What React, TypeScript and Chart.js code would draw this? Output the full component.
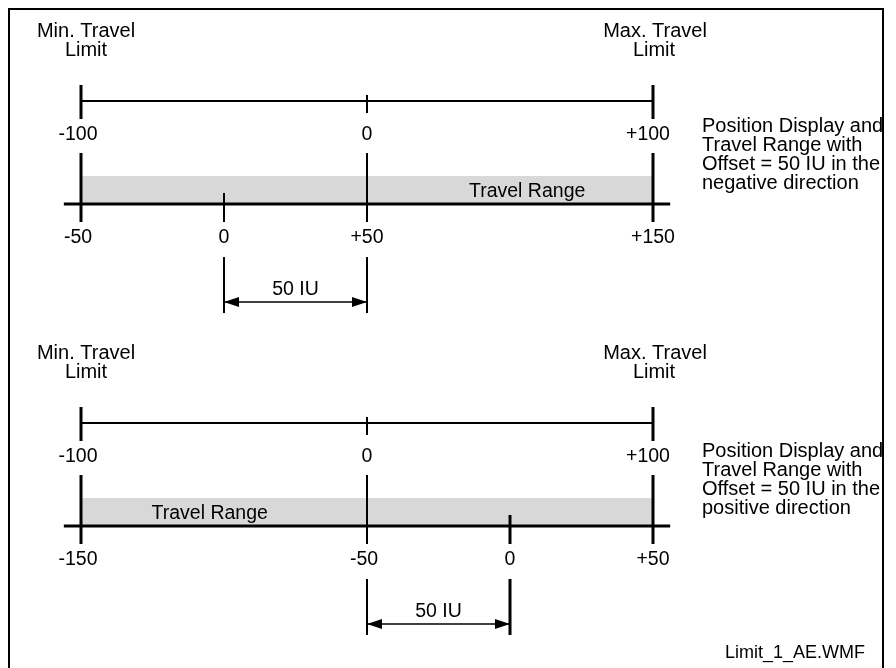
import React, { useEffect, useRef } from "react";
import { Chart, registerables } from "chart.js";

Chart.register(...registerables);

// ---------------- data (values in IU) ----------------
const travelLimits = [-100, 100]; // Min. / Max. Travel Limit, in displayed position
const displayTicks = [-100, 0, 100];
const displayTickLabels = ["-100", "0", "+100"];

const offsetIU = 50;
const offsetSigns = [-1, 1]; // top: negative direction, bottom: positive direction

const negScaleTicks = [-50, 0, 50, 150];
const negScaleLabels = ["-50", "0", "+50", "+150"];
const posScaleTicks = [-150, -50, 0, 50];
const posScaleLabels = ["-150", "-50", "0", "+50"];

const minLimitTitle = ["Min. Travel", "Limit"];
const maxLimitTitle = ["Max. Travel", "Limit"];
const negNote = ["Position Display and", "Travel Range with", "Offset = 50 IU in the", "negative direction"];
const posNote = ["Position Display and", "Travel Range with", "Offset = 50 IU in the", "positive direction"];
const travelRangeLabel = "Travel Range";
const offsetLabel = "50 IU";
const travelLabelAt = [56, -55]; // label anchor, displayed position
const fileLabel = "Limit_1_AE.WMF";

// ---------------- layout ----------------
const W = 876;
const H = 660;
const PLOT_LEFT = 73;
const PLOT_RIGHT = 645;
const DIAGRAM_BASE = [0, 322];
const NOTE_SHIFT = [0, 3];
const ROW = {
  title1: 23,
  title2: 42,
  topLine: 93,
  limTickTop: 77,
  limTickBot: 111,
  zeroTickTop: 87,
  zeroTickBot: 105,
  upperLabel: 127,
  longTickTop: 145,
  bandTop: 168,
  axis: 196,
  shortTickTop: 185,
  tickBot: 214,
  lowerLabel: 230,
  dimTop: 249,
  dimBot: 305,
  arrow: 294,
  dimLabel: 282,
  travelLabel: 184,
  note: 118,
};
const NOTE_LINE = 19;
const AXIS_OVERHANG = 6; // IU
const DISPLAY_LABEL_NUDGE = [-3, 0, -5]; // px
const NEG_LABEL_NUDGE = -3; // px, labels with a minus sign
const FONT = '"Liberation Sans", Arial, Helvetica, sans-serif';
const BAND = "#d8d8d8";

type Pt = { x: number; y: number };

function seg(x1: number, y1: number, x2: number, y2: number, w: number) {
  return {
    data: [
      { x: x1, y: y1 },
      { x: x2, y: y2 },
    ] as Pt[],
    showLine: true,
    borderColor: "#000",
    backgroundColor: "#000",
    borderWidth: w,
    borderCapStyle: "butt" as const,
    pointRadius: 0,
    pointHoverRadius: 0,
    fill: false,
    clip: false as const,
    order: 1,
  };
}

function buildDatasets() {
  const ds: any[] = [];
  offsetSigns.forEach((s, d) => {
    const b = DIAGRAM_BASE[d];
    const ticks = d === 0 ? negScaleTicks : posScaleTicks;
    const zeroW = d === 0 ? 2 : 3;
    const toDisp = (v: number) => v + s * offsetIU;
    // travel range band
    ds.push({
      data: [
        { x: travelLimits[0], y: b + ROW.bandTop },
        { x: travelLimits[1], y: b + ROW.bandTop },
      ],
      showLine: true,
      borderWidth: 0,
      borderColor: "rgba(0,0,0,0)",
      backgroundColor: BAND,
      pointRadius: 0,
      fill: { value: b + ROW.axis },
      order: 10,
    });
    // position display line
    ds.push(seg(travelLimits[0], b + ROW.topLine, travelLimits[1], b + ROW.topLine, 2));
    displayTicks.forEach((v) => {
      const lim = travelLimits.includes(v);
      ds.push(
        seg(v, b + (lim ? ROW.limTickTop : ROW.zeroTickTop), v, b + (lim ? ROW.limTickBot : ROW.zeroTickBot), lim ? 3 : 2)
      );
    });
    // offset scale axis
    ds.push(
      seg(travelLimits[0] - AXIS_OVERHANG, b + ROW.axis, travelLimits[1] + AXIS_OVERHANG, b + ROW.axis, 3)
    );
    ticks.forEach((v) => {
      const x = toDisp(v);
      const lim = travelLimits.includes(x);
      if (v === 0) ds.push(seg(x, b + ROW.shortTickTop, x, b + ROW.tickBot, zeroW));
      else ds.push(seg(x, b + ROW.longTickTop, x, b + ROW.tickBot, lim ? 3 : 2));
    });
    // dimension
    const dims = [0, toDisp(0)];
    dims.forEach((x) => ds.push(seg(x, b + ROW.dimTop, x, b + ROW.dimBot, x === 0 ? 2 : zeroW)));
    ds.push(seg(Math.min(...dims), b + ROW.arrow, Math.max(...dims), b + ROW.arrow, 1.5));
  });
  return ds;
}

const diagramPlugin = {
  id: "diagramText",
  afterDraw(chart: any) {
    const ctx = chart.ctx as CanvasRenderingContext2D;
    const xs = chart.scales.x;
    const ys = chart.scales.y;
    const px = (v: number) => xs.getPixelForValue(v);
    const py = (v: number) => ys.getPixelForValue(v);
    const nudge = (t: string) => (t.startsWith("-") ? NEG_LABEL_NUDGE : 0);
    ctx.save();
    ctx.fillStyle = "#000";
    ctx.textBaseline = "middle";

    offsetSigns.forEach((s, d) => {
      const b = DIAGRAM_BASE[d];
      const ticks = d === 0 ? negScaleTicks : posScaleTicks;
      const labels = d === 0 ? negScaleLabels : posScaleLabels;
      const note = d === 0 ? negNote : posNote;
      const toDisp = (v: number) => v + s * offsetIU;

      ctx.textAlign = "center";
      // titles
      ctx.font = `20px ${FONT}`;
      ctx.fillText(minLimitTitle[0], px(travelLimits[0]) + 5, py(b + ROW.title1));
      ctx.fillText(minLimitTitle[1], px(travelLimits[0]) + 5, py(b + ROW.title2));
      ctx.fillText(maxLimitTitle[0], px(travelLimits[1]) + 2, py(b + ROW.title1));
      ctx.fillText(maxLimitTitle[1], px(travelLimits[1]) + 1, py(b + ROW.title2));
      ctx.font = `19.5px ${FONT}`;
      // display labels
      displayTicks.forEach((v, i) =>
        ctx.fillText(displayTickLabels[i], px(v) + DISPLAY_LABEL_NUDGE[i], py(b + ROW.upperLabel))
      );
      // offset scale labels
      ticks.forEach((v, i) => ctx.fillText(labels[i], px(toDisp(v)) + nudge(labels[i]), py(b + ROW.lowerLabel)));
      // travel range
      ctx.fillText(travelRangeLabel, px(travelLabelAt[d]), py(b + ROW.travelLabel));
      // dimension label
      ctx.fillText(offsetLabel, (px(0) + px(toDisp(0))) / 2, py(b + ROW.dimLabel));

      // arrowheads
      const xa = Math.min(px(0), px(toDisp(0)));
      const xb = Math.max(px(0), px(toDisp(0)));
      const ya = py(b + ROW.arrow);
      ctx.beginPath();
      ctx.moveTo(xa, ya);
      ctx.lineTo(xa + 15, ya - 5);
      ctx.lineTo(xa + 15, ya + 5);
      ctx.closePath();
      ctx.fill();
      ctx.beginPath();
      ctx.moveTo(xb, ya);
      ctx.lineTo(xb - 15, ya - 5);
      ctx.lineTo(xb - 15, ya + 5);
      ctx.closePath();
      ctx.fill();

      // side note, clipped by frame
      ctx.save();
      ctx.beginPath();
      ctx.rect(0, 0, W - 2, H);
      ctx.clip();
      ctx.font = `20px ${FONT}`;
      ctx.textAlign = "left";
      note.forEach((line, i) =>
        ctx.fillText(line, px(travelLimits[1]) + 49, py(b + ROW.note + NOTE_SHIFT[d] + i * NOTE_LINE))
      );
      ctx.restore();
    });

    // file name
    ctx.font = `18px ${FONT}`;
    ctx.textAlign = "right";
    ctx.fillText(fileLabel, W - 19, H - 15);

    // frame
    ctx.fillRect(0, 0, 2, H);
    ctx.fillRect(0, 0, W, 2);
    ctx.fillRect(W - 2, 0, 2, H);
    ctx.restore();
  },
};

export default function App() {
  const ref = useRef<HTMLCanvasElement | null>(null);
  useEffect(() => {
    if (!ref.current) return;
    const chart = new Chart(ref.current, {
      type: "scatter",
      data: { datasets: buildDatasets() },
      options: {
        responsive: false,
        animation: false,
        events: [],
        layout: { padding: { left: PLOT_LEFT, right: W - PLOT_RIGHT, top: 0, bottom: 0 } },
        plugins: { legend: { display: false }, tooltip: { enabled: false } },
        scales: {
          x: { type: "linear", min: travelLimits[0], max: travelLimits[1], display: false },
          y: { type: "linear", min: 0, max: H, reverse: true, display: false },
        },
      } as any,
      plugins: [diagramPlugin],
    });
    return () => chart.destroy();
  }, []);
  return (
    <div style={{ position: "fixed", left: 8, top: 8, width: W, height: H, background: "#fff" }}>
      <canvas ref={ref} width={W} height={H} style={{ display: "block" }} />
    </div>
  );
}
